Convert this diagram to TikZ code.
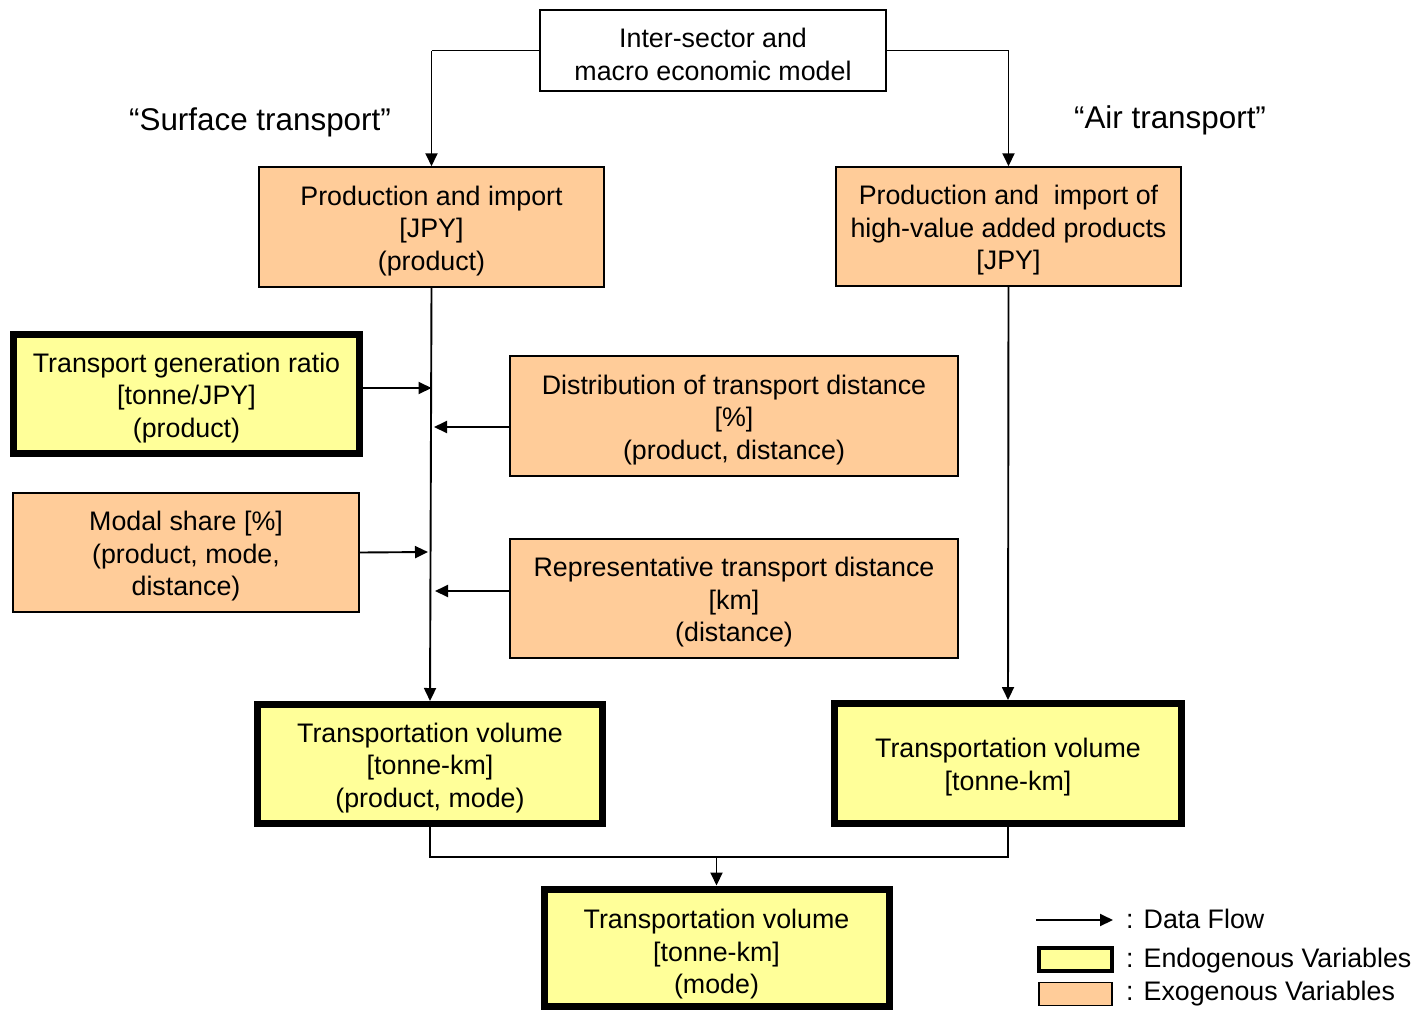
\documentclass[tikz,border=0pt]{standalone}
\usepackage{fontspec}
\setmainfont{Liberation Sans}
\usetikzlibrary{arrows.meta}
\definecolor{endo}{HTML}{FFFF99}
\definecolor{exo}{HTML}{FFCC99}
% taller first line, so that box texts sit a little low as in slide layouts
\newcommand{\firstgap}{\rule{0pt}{27pt}}
\tikzset{
  txt/.style={font=\fontsize{26.8}{32.5}\selectfont, align=center, inner sep=0pt},
  box/.style={txt, rectangle, draw=black, line width=1.5pt, minimum width=#1},
  exobox/.style={box=#1, fill=exo},
  endobox/.style={txt, rectangle, draw=black, line width=7pt, fill=endo, minimum width=#1},
  branch/.style={font=\fontsize{31.4}{38}\selectfont, inner sep=0pt},
  flow/.style={line width=1.9pt, -{Triangle[length=13pt,width=12pt]}},
  link/.style={line width=1.9pt},
}
\begin{document}
\begin{tikzpicture}[x=1pt, y=-1pt]
\useasboundingbox (0,0) rectangle (1420,1009);

% top model
\node[box=346pt, minimum height=81pt, fill=white] (model) at (713,50.5)
  {\firstgap Inter-sector and\\macro economic model};

% branch labels
\node[branch] (surf) at (260,122) {“Surface transport”};
\node[branch] (air) at (1170,120) {“Air transport”};

% production nodes
\node[exobox=345pt, minimum height=120pt] (prod) at (431.5,227)
  {\firstgap Production and import\\{[JPY]}\\(product)};
\node[exobox=345pt, minimum height=119pt] (hv) at (1008.5,226.5)
  {\firstgap Production and\ \ import of\\high-value added products\\{[JPY]}};

% coefficients feeding the surface chain
\node[endobox=346pt, minimum height=119pt] (gen) at (186.5,394)
  {\firstgap Transport generation ratio\\{[tonne/JPY]}\\(product)};
\node[exobox=448pt, minimum height=120pt] (dist) at (734,416)
  {\firstgap Distribution of transport distance\\{[\%]}\\(product, distance)};
\node[exobox=346pt, minimum height=119pt] (modal) at (186,552.5)
  {\firstgap Modal share [\%]\\(product, mode,\\distance)};
\node[exobox=448pt, minimum height=119pt] (rep) at (734,598.5)
  {\firstgap Representative transport distance\\{[km]}\\(distance)};

% transportation volumes
\node[endobox=345pt, minimum height=119pt] (tvl) at (430,764)
  {\firstgap Transportation volume\\{[tonne-km]}\\(product, mode)};
\node[endobox=347pt, minimum height=120pt] (tvr) at (1008,763.5)
  {\firstgap Transportation volume\\{[tonne-km]}};
\node[endobox=345pt, minimum height=117pt] (tvb) at (716.5,947.5)
  {\rule{0pt}{33pt}Transportation volume\\{[tonne-km]}\\(mode)};

% flows from the model
\draw[link] (model.west) -- (prod.north |- model.west) coordinate (ml);
\draw[flow] (ml) -- (prod.north);
\draw[link] (model.east) -- (hv.north |- model.east) coordinate (mr);
\draw[flow] (mr) -- (hv.north);

% surface chain
\draw[flow] (prod.south) -- (tvl.north);
\draw[flow] (gen.east |- 0,388) -- (prod.south |- 0,388);
\draw[flow] (dist.west |- 0,427) -- (434,427);
\draw[flow] (modal.east) -- (428,552);
\draw[flow] (rep.west |- 0,591) -- (435,591);

% air chain
\draw[flow] (hv.south) -- (tvr.north);

% merge into total volume
\coordinate (j) at (tvb.north |- 0,857);
\draw[link] (tvl.south) -- (tvl.south |- j) -- (tvr.south |- j) -- (tvr.south);
\draw[flow] (j) -- (tvb.north);

% legend
\coordinate (la) at (1036,920);
\coordinate (lb) at (1113,920);
\draw[flow] (la) -- (lb);
\node[txt, anchor=west] (l1) at (1126,919) {:\hspace{10pt}Data Flow};
\node[rectangle, draw=black, line width=4pt, fill=endo, minimum width=73pt, minimum height=23pt, inner sep=0pt] (le) at (1075.5,959.5) {};
\node[txt, anchor=west] (l2) at (1126,961) {:\hspace{10pt}Endogenous Variables};
\node[rectangle, draw=black, line width=1.2pt, fill=exo, minimum width=73pt, minimum height=23pt, inner sep=0pt] (lx) at (1075.5,994) {};
\node[txt, anchor=west] (l3) at (1126,994) {:\hspace{10pt}Exogenous Variables};
\end{tikzpicture}
\end{document}
